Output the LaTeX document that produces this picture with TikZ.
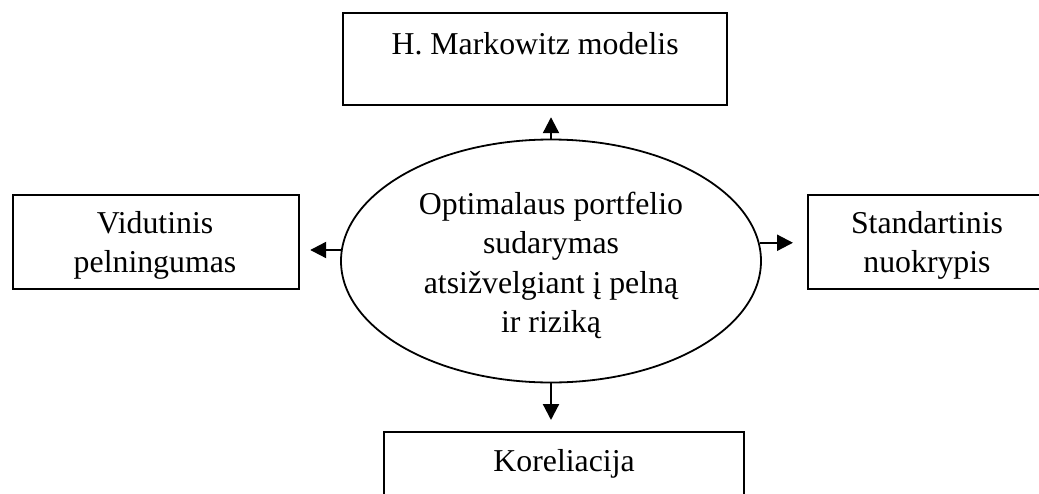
\documentclass[tikz,border=0pt]{standalone}
\usepackage{fontspec}
\setmainfont{Liberation Serif}
\usetikzlibrary{shapes.geometric,arrows.meta}
\begin{document}
\begin{tikzpicture}[x=1pt,y=-1pt,
  txt/.style={font=\fontsize{31.8}{39.5}\selectfont, inner sep=0pt, align=center},
  box/.style={draw, line width=2.2pt, inner sep=0pt, anchor=north west, txt},
  arr/.style={line width=2.2pt, -{Triangle[length=16pt,width=16pt]}}]
\useasboundingbox (0,0) rectangle (1039,493);
\clip (0,0) rectangle (1039,493);

% central goal
\node[ellipse, draw, line width=1.8pt, minimum width=420pt, minimum height=243pt,
      inner sep=0pt] (goal) at (551,261) {};
\node[txt] (goaltext) at (551,265.5)
  {Optimalaus portfelio\\sudarymas\\atsižvelgiant į pelną\\ir riziką};

% surrounding boxes
\node[box, minimum width=384pt, text height=41pt, text depth=51pt] (markowitz) at (342,12)
  {H. Markowitz modelis};
\node[box, minimum width=286pt, minimum height=94pt] (vid) at (12,194) {};
\node[txt] (vidtext) at (155,245.5) {Vidutinis\\pelningumas};
\node[box, minimum width=240pt, minimum height=94pt] (std) at (807,194) {};
\node[txt] (stdtext) at (927,245.5) {Standartinis\\nuokrypis};
\node[box, minimum width=360pt, text height=39pt, text depth=53pt] (kor) at (383,431)
  {Koreliacija};

% connectors
\draw[arr, shorten >=11pt] (goal.north) -- (goal.north |- markowitz.south);
\draw[arr, shorten >=11pt] (goal.south) -- (goal.south |- kor.north);
\draw[arr, shorten >=10pt] (goal.177.5) -- (goal.177.5 -| vid.east);
\draw[arr, shorten >=14pt] (goal.5.2) -- (goal.5.2 -| std.west);
\end{tikzpicture}
\end{document}
